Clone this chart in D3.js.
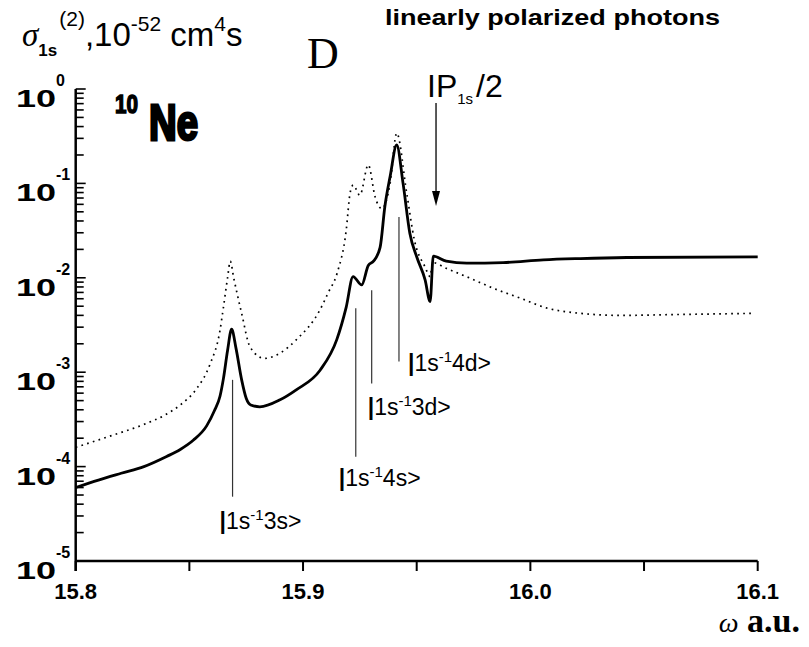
<!DOCTYPE html>
<html lang="en">
<head>
  <meta charset="UTF-8">
  <title>Ne two-photon cross section</title>
  <script src="https://d3js.org/d3.v7.min.js"></script>
  <style>
    body { margin: 0; background: #fff; }
    svg { display: block; }
    text { font-family: 'Liberation Sans', Arial, sans-serif; fill: #000; }
  </style>
</head>
<body>
  <svg width="809" height="647"></svg>
  <script>
    // solid curve
    const solidW = [15.800, 15.810, 15.820, 15.830, 15.840, 15.846, 15.8517, 15.8576, 15.861, 15.8635, 15.865, 15.8668,
      15.8686, 15.8705, 15.873, 15.875, 15.877, 15.881, 15.8899, 15.897, 15.9075, 15.9148, 15.919, 15.922, 15.9258,
      15.9287, 15.931, 15.9339, 15.936, 15.9383, 15.9412, 15.944, 15.947, 15.950, 15.9537, 15.9559, 15.9573, 15.963,
      15.972, 15.988, 16.0057, 16.022, 16.0424, 16.100];
    const solidS = [6.0e-5, 7.2e-5, 8.5e-5, 1.0e-4, 1.28e-4, 1.52e-4, 1.9e-4, 2.7e-4, 3.9e-4, 5.6e-4, 8.6e-4, 1.7e-3,
      2.85e-3, 1.8e-3, 8.3e-4, 5.3e-4, 4.5e-4, 4.3e-4, 5.1e-4, 6.5e-4, 1.05e-3, 2.2e-3, 4.9e-3, 1.03e-2, 8.4e-3,
      1.35e-2, 1.5e-2, 2.1e-2, 5.7e-2, 0.118, 0.255, 0.10, 0.0295, 1.67e-2, 9.5e-3, 5.6e-3, 1.7e-2, 1.5e-2,
      1.43e-2, 1.45e-2, 1.55e-2, 1.6e-2, 1.64e-2, 1.67e-2];

    // dotted curve
    const dotW = [15.800, 15.815, 15.830, 15.840, 15.846, 15.853, 15.859, 15.8635, 15.865, 15.8668, 15.868, 15.8695,
      15.873, 15.8767, 15.883, 15.890, 15.897, 15.9075, 15.911, 15.915, 15.919, 15.9207, 15.9221, 15.925, 15.9287,
      15.9317, 15.9346, 15.9383, 15.9412, 15.9456, 15.949, 15.9537, 15.9559, 15.957, 15.963, 15.9735, 15.984,
      15.9955, 16.007, 16.022, 16.0395, 16.069, 16.098];
    const dotS = [1.6e-4, 2.1e-4, 2.8e-4, 3.6e-4, 4.5e-4, 6.6e-4, 1.2e-3, 2.8e-3, 4.9e-3, 1.0e-2, 1.5e-2, 1.0e-2,
      4.2e-3, 1.85e-3, 1.4e-3, 1.6e-3, 2.2e-3, 4.6e-3, 6.9e-3, 1.12e-2, 3.2e-2, 7.9e-2, 9.6e-2, 7.5e-2, 0.157,
      7.2e-2, 5.4e-2, 0.10, 0.34, 7.9e-2, 2.5e-2, 1.3e-2, 1.03e-2, 1.45e-2, 1.26e-2, 9.9e-3, 7.7e-3,
      6.1e-3, 4.8e-3, 4.2e-3, 4.0e-3, 4.1e-3, 4.2e-3];

    // resonance markers
    const stateNames = ["3s", "4s", "3d", "4d"];
    const stateW = [15.869, 15.9232, 15.9302, 15.9422];
    const stateTop = [8.3e-4, 4.75e-3, 7.4e-3, 4.4e-2];
    const stateBottom = [4.8e-5, 1.27e-4, 7.6e-4, 1.3e-3];

    const xTicks = [15.8, 15.85, 15.9, 15.95, 16.0, 16.05, 16.1];
    const xLabels = ["15.8", "15.9", "16.0", "16.1"];
    const yDecades = [0, -1, -2, -3, -4, -5];
    const ipW = 15.9585;

    const svg = d3.select("svg");
    const x = d3.scaleLinear().domain([15.8, 16.1]).range([75.7, 757.7]);
    const y = d3.scaleLog().domain([1e-5, 1]).range([561, 89]);

    // axes
    svg.append("line").attr("x1", x(15.8)).attr("x2", x(15.8)).attr("y1", y(1)).attr("y2", y(1e-5) + 10)
      .attr("stroke", "#000").attr("stroke-width", 2.5);
    svg.append("line").attr("x1", x(15.8)).attr("x2", x(16.1)).attr("y1", y(1e-5)).attr("y2", y(1e-5))
      .attr("stroke", "#000").attr("stroke-width", 2.5);

    svg.selectAll(".xt").data(xTicks).join("line")
      .attr("x1", d => x(d)).attr("x2", d => x(d))
      .attr("y1", y(1e-5)).attr("y2", y(1e-5) + 10)
      .attr("stroke", "#000").attr("stroke-width", 2);

    svg.selectAll(".xl").data(xLabels).join("text")
      .attr("x", d => x(+d)).attr("y", y(1e-5) + 38)
      .attr("text-anchor", "middle").attr("font-size", 22).attr("font-weight", "bold")
      .text(d => d);

    // y minor + major ticks (inside)
    const yTicks = [];
    yDecades.slice(1).forEach(k => {
      for (let m = 1; m < 10; m++) yTicks.push({ v: m * Math.pow(10, k), major: m === 1 });
    });
    yTicks.push({ v: 1, major: true });
    svg.selectAll(".yt").data(yTicks).join("line")
      .attr("x1", x(15.8)).attr("x2", d => x(15.8) + (d.major ? 10 : 8))
      .attr("y1", d => y(d.v)).attr("y2", d => y(d.v))
      .attr("stroke", "#000").attr("stroke-width", 1.6);

    const yl = svg.selectAll(".yl").data(yDecades).join("g");
    yl.append("text")
      .attr("transform", d => `translate(56,${y(Math.pow(10, d)) + 18}) scale(1.5,1)`)
      .attr("text-anchor", "end").attr("font-size", 24).attr("font-weight", "bold")
      .text("10");
    yl.append("text")
      .attr("x", 56).attr("y", d => y(Math.pow(10, d)) - 3)
      .attr("font-size", 16).attr("font-weight", "bold")
      .text(d => d === 0 ? "0" : "-" + (-d));

    // curves
    const line = d3.line().x(d => x(d[0])).y(d => y(d[1])).curve(d3.curveMonotoneX);
    svg.append("path").attr("d", line(dotW.map((w, i) => [w, dotS[i]])))
      .attr("fill", "none").attr("stroke", "#000").attr("stroke-width", 1.7)
      .attr("stroke-dasharray", "1.7,4.3");
    svg.append("path").attr("d", line(solidW.map((w, i) => [w, solidS[i]])))
      .attr("fill", "none").attr("stroke", "#000").attr("stroke-width", 2.8)
      .attr("stroke-linejoin", "round");

    // resonance markers
    const labelDx = [-13, -17, -4, 9];
    const labelDy = [32, 29, 32, 10];
    stateNames.forEach((s, i) => {
      svg.append("line")
        .attr("x1", x(stateW[i])).attr("x2", x(stateW[i]))
        .attr("y1", y(stateTop[i])).attr("y2", y(stateBottom[i]))
        .attr("stroke", "#333").attr("stroke-width", 1.2);
      const t = svg.append("text")
        .attr("x", x(stateW[i]) + labelDx[i]).attr("y", y(stateBottom[i]) + labelDy[i])
        .attr("font-size", 23);
      t.append("tspan").attr("font-weight", "bold").text("|");
      t.append("tspan").text("1s");
      t.append("tspan").attr("font-size", 15).attr("dy", -9).text("-1");
      t.append("tspan").attr("dy", 9).text(s + ">");
    });

    // IP arrow
    const ax = x(ipW);
    svg.append("line")
      .attr("x1", ax).attr("x2", ax).attr("y1", 103).attr("y2", 195)
      .attr("stroke", "#000").attr("stroke-width", 1.3);
    svg.append("path")
      .attr("d", `M${ax - 4},${191} L${ax + 4},${191} L${ax},${206} Z`)
      .attr("fill", "#000");
    const ip = svg.append("text").attr("x", ax - 9).attr("y", 97).attr("font-size", 32);
    ip.append("tspan").text("IP");
    ip.append("tspan").attr("font-size", 15).attr("dy", 7).text("1s");
    ip.append("tspan").attr("dy", -7).attr("dx", 3).text("/2");

    // titles
    svg.append("text").attr("x", 385).attr("y", 25).attr("font-size", 22).attr("font-weight", "bold")
      .attr("textLength", 335).attr("lengthAdjust", "spacingAndGlyphs")
      .text("linearly polarized photons");

    svg.append("text").attr("x", 323).attr("y", 68).attr("text-anchor", "middle")
      .style("font-family", "'Liberation Serif', serif").attr("font-size", 44)
      .text("D");

    const yt = svg.append("text").attr("x", 22).attr("y", 46).attr("font-size", 33);
    yt.append("tspan").style("font-family", "'Liberation Serif', serif").attr("font-style", "italic").text("σ");
    yt.append("tspan").attr("font-size", 17).attr("font-weight", "bold").attr("dy", 10).text("1s");
    yt.append("tspan").attr("font-size", 21).attr("dy", -30).attr("dx", 2).text("(2)");
    yt.append("tspan").attr("dy", 20).text(",10");
    yt.append("tspan").attr("font-size", 21).attr("dy", -15).text("-52");
    yt.append("tspan").attr("dy", 15).text(" cm");
    yt.append("tspan").attr("font-size", 21).attr("dy", -15).text("4");
    yt.append("tspan").attr("dy", 15).text("s");

    // element label
    svg.append("text").attr("x", 115).attr("y", 113).attr("font-size", 26).attr("font-weight", "bold")
      .attr("stroke", "#000").attr("stroke-width", 1.5)
      .attr("textLength", 23).attr("lengthAdjust", "spacingAndGlyphs")
      .text("10");
    svg.append("text").attr("transform", "translate(149,140) scale(1,1.45)")
      .style("font-family", "'Liberation Sans Narrow', 'Liberation Sans', sans-serif")
      .attr("font-size", 34).attr("font-weight", "bold")
      .attr("stroke", "#000").attr("stroke-width", 2)
      .attr("textLength", 49).attr("lengthAdjust", "spacingAndGlyphs")
      .text("Ne");

    // x axis title
    const xt = svg.append("text").attr("x", 800).attr("y", 632).attr("text-anchor", "end")
      .style("font-family", "'Liberation Serif', serif").attr("font-size", 34).attr("font-weight", "bold");
    xt.append("tspan").attr("font-style", "italic").attr("font-weight", "normal").attr("font-size", 28).text("ω");
    xt.append("tspan").text(" a.u.");
  </script>
</body>
</html>
